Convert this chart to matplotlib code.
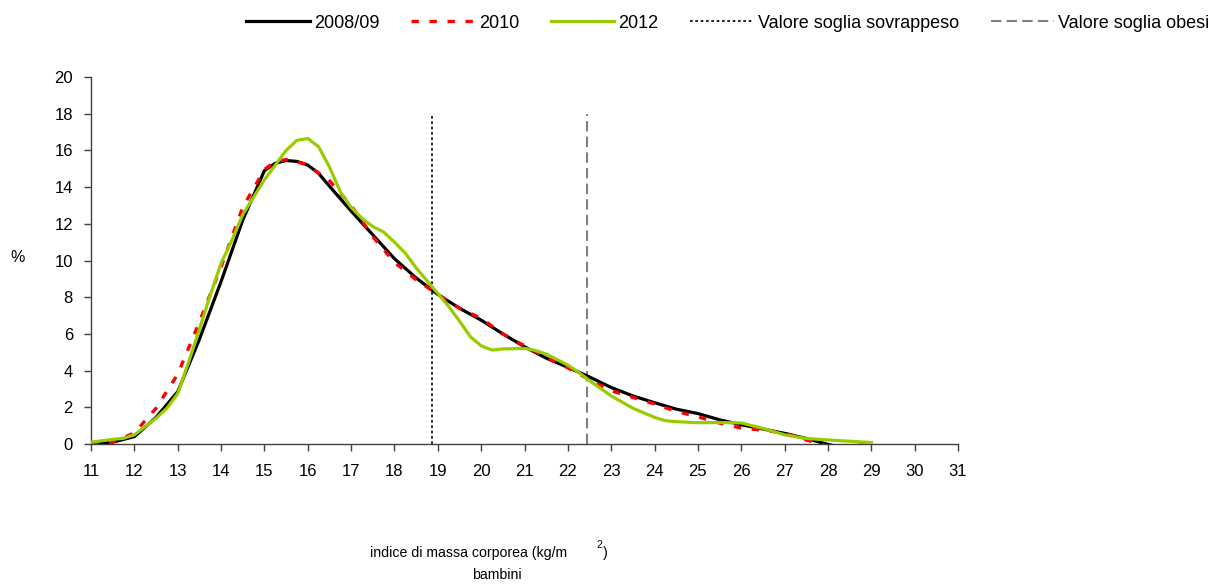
import matplotlib
matplotlib.use("Agg")
import matplotlib.pyplot as plt

plt.rcParams['font.family'] = ['Liberation Sans', 'DejaVu Sans']

# BMI (kg/m2) and % of children
bmi_0809 = [11.0, 11.5, 12.0, 12.5, 13.0, 13.5, 14.0, 14.5, 15.0, 15.25, 15.5, 15.75,
            16.0, 16.25, 16.5, 17.0, 17.5, 18.0, 18.5, 19.0, 19.5, 20.0, 20.5, 21.0,
            21.5, 22.0, 22.5, 23.0, 23.5, 24.0, 24.5, 25.0, 25.5, 26.0, 26.5, 27.0,
            27.5, 28.0, 28.3, 28.6, 29.0]
pct_0809 = [0.0, 0.1, 0.4, 1.45, 2.85, 5.7, 8.85, 12.2, 14.9, 15.3, 15.45, 15.4,
            15.2, 14.75, 14.05, 12.7, 11.4, 10.1, 9.05, 8.15, 7.4, 6.75, 6.0, 5.3,
            4.68, 4.18, 3.65, 3.08, 2.62, 2.25, 1.9, 1.66, 1.32, 1.05, 0.82, 0.58,
            0.3, -0.02, -0.18, -0.1, -0.05]

bmi_2010 = [11.0, 11.5, 12.0, 12.5, 13.0, 13.5, 14.0, 14.5, 15.0, 15.25, 15.5, 15.75,
            16.0, 16.5, 17.0, 17.5, 18.0, 18.5, 19.0, 19.5, 20.0, 20.5, 21.0, 21.5,
            22.0, 22.5, 23.0, 23.5, 24.0, 24.5, 25.0, 25.5, 26.0, 26.5, 27.0, 27.5,
            28.0, 28.5, 29.0]
pct_2010 = [0.0, 0.1, 0.6, 1.95, 3.8, 6.65, 9.65, 12.9, 14.95, 15.4, 15.5, 15.4,
            15.2, 14.35, 13.0, 11.3, 9.9, 8.95, 8.15, 7.4, 6.85, 6.0, 5.35, 4.72,
            4.15, 3.5, 2.9, 2.54, 2.18, 1.78, 1.48, 1.14, 0.87, 0.75, 0.6, 0.22,
            -0.12, -0.08, -0.05]

bmi_2012 = [11.0, 11.5, 11.75, 12.0, 12.5, 12.75, 13.0, 13.25, 13.5, 13.75, 14.0, 14.25,
            14.5, 15.0, 15.5, 15.75, 16.0, 16.25, 16.5, 16.75, 17.0, 17.25, 17.5, 17.75,
            18.0, 18.25, 18.5, 18.75, 19.0, 19.25, 19.5, 19.75, 20.0, 20.25, 20.5, 21.0,
            21.25, 21.5, 21.75, 22.0, 22.25, 22.5, 23.0, 23.5, 24.0, 24.25, 24.5, 25.0,
            25.5, 26.0, 26.5, 27.0, 27.5, 28.0, 28.5, 29.0]
pct_2012 = [0.1, 0.25, 0.31, 0.5, 1.4, 1.95, 2.75, 4.45, 6.25, 8.1, 9.85, 11.1,
            12.5, 14.4, 16.0, 16.55, 16.65, 16.2, 15.1, 13.75, 12.9, 12.3, 11.85, 11.55,
            11.0, 10.4, 9.6, 8.9, 8.2, 7.5, 6.7, 5.85, 5.35, 5.12, 5.18, 5.21,
            5.1, 4.9, 4.6, 4.3, 3.9, 3.45, 2.62, 1.95, 1.45, 1.27, 1.22, 1.16,
            1.17, 1.15, 0.85, 0.5, 0.3, 0.22, 0.15, 0.08]

soglia_sovrappeso = 18.87
soglia_obesi = 22.45
x_ticks = list(range(11, 32))
y_ticks = list(range(0, 21, 2))

fig = plt.figure(figsize=(12.15, 5.87), dpi=100)
ax = fig.add_axes([0.0749, 0.2436, 0.7136, 0.6252])

ax.plot(bmi_0809, pct_0809, color='black', lw=2.3, label='2008/09', zorder=3)
ax.plot(bmi_2010, pct_2010, color='#ff0000', lw=2.4, linestyle=(0, (2.2, 3.2)),
        label='2010', zorder=4)
ax.plot(bmi_2012, pct_2012, color='#99cc00', lw=2.3, label='2012', zorder=5)
ax.plot([soglia_sovrappeso, soglia_sovrappeso], [0, 18], color='black', lw=1.2,
        linestyle=(0, (1.6, 1.6)), label='Valore soglia sovrappeso', zorder=2)
ax.plot([soglia_obesi, soglia_obesi], [0, 18], color='#808080', lw=1.5,
        linestyle=(0, (5, 2.5)), label='Valore soglia obesi', zorder=2)

ax.set_xlim(11, 31)
ax.set_ylim(0, 20)
ax.set_xticks(x_ticks)
ax.set_yticks(y_ticks)
ax.tick_params(axis='both', labelsize=12, direction='out', length=5, width=1,
               color='#404040')
ax.tick_params(axis='x', pad=9.5)
ax.tick_params(axis='y', pad=8)
ax.spines['top'].set_visible(False)
ax.spines['right'].set_visible(False)
for s in ('left', 'bottom'):
    ax.spines[s].set_color('#404040')
    ax.spines[s].set_linewidth(1)

fig.text(18 / 1215, 1 - 257 / 587, '%', fontsize=11.5, ha='center', va='center')
fig.text(567 / 1215, 1 - 553 / 587, 'indice di massa corporea (kg/m', fontsize=10.2,
         ha='right', va='center')
fig.text(599 / 1215, 1 - 545 / 587, '2', fontsize=7.5, ha='center', va='center')
fig.text(605 / 1215, 1 - 553 / 587, ')', fontsize=10.2, ha='center', va='center')
fig.text(497 / 1215, 1 - 575 / 587, 'bambini', fontsize=10.2, ha='center', va='center')

fig.legend(loc='center', bbox_to_anchor=(728 / 1215, 1 - 23 / 587), ncol=5,
           frameon=False, fontsize=13, handlelength=3.5, handletextpad=0.25,
           columnspacing=1.75)

fig.savefig('out.png', dpi=100)
